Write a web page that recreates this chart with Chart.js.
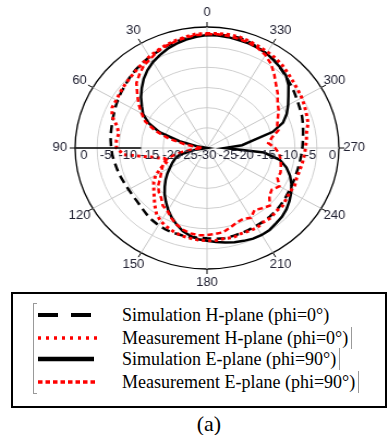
<!DOCTYPE html>
<html lang="en">
<head>
    <meta charset="UTF-8">
    <title>Radiation pattern</title>
    <style type="text/css">
        body {
            margin: 0;
            width: 388px;
            height: 435px;
            background: #fff;
            position: relative;
            overflow: hidden;
            font-family: 'Liberation Serif', 'Times New Roman', serif;
        }
        .polarBox {
            position: absolute;
            left: 0;
            top: 0;
            width: 388px;
            height: 290px;
            transform: scaleX(1.09);
            transform-origin: 207px 0;
        }
        .legendBox {
            position: absolute;
            left: 11px;
            top: 292px;
            width: 372px;
            height: 112px;
            border: 2px solid #000;
        }
        .bracket {
            position: absolute;
            left: 20px;
            top: 9px;
            width: 3px;
            height: 89px;
            border: 1px solid #999;
            border-right: none;
        }
        .row {
            position: absolute;
            left: 22px;
            height: 22px;
            line-height: 22px;
            font-size: 18px;
            color: #000;
            white-space: nowrap;
        }
        .row svg {
            position: absolute;
            left: 2px;
            top: 6px;
        }
        .row span {
            position: absolute;
            left: 87px;
        }
        .row span.closed {
            border-right: 1px solid #999;
            padding-right: 3px;
        }
        .caption {
            position: absolute;
            left: 0;
            width: 418px;
            top: 411px;
            text-align: center;
            font-size: 22px;
        }
    </style>
</head>
<body>
    <div class="polarBox">
        <canvas id="myChart"></canvas>
    </div>
    <div class="legendBox" id="legendBox">
        <div class="bracket"></div>
    </div>
    <div class="caption">(a)</div>

    <script src="https://cdn.jsdelivr.net/npm/chart.js"></script>

    <script>
    // setup block
    // angles in degrees, counter-clockwise from the top, 5 degree steps
    const angles = [];
    for (let a = 0; a < 360; a += 5) angles.push(a);

    const angleTickLabels = ['0', '30', '60', '90', '120', '150', '180', '210', '240', '270', '300', '330'];
    const dbTicks = [0, -5, -10, -15, -20, -25, -30];

    const seriesNames = [
        'Simulation H-plane (phi=0°)',
        'Measurement H-plane (phi=0°)',
        'Simulation E-plane (phi=90°)',
        'Measurement E-plane (phi=90°)'
    ];

    // values in dB, one per angle above (0, 5, 10 ... 355)
    const hSim = [
        -2.0, -2.1, -2.4, -2.7, -3.1, -3.6, -3.9, -4.3, -4.7, -5.2, -5.7, -6.1,
        -6.5, -6.9, -7.3, -7.6, -7.8, -8.0, -8.2, -8.4, -8.7, -8.9, -9.1, -9.3,
        -9.4, -9.4, -9.3, -9.0, -8.6, -8.2, -7.9, -7.7, -7.6, -7.6, -7.6, -7.7,
        -7.6, -7.4, -7.3, -7.4, -7.5, -7.6, -7.7, -7.7, -7.8, -7.9, -8.1, -8.3,
        -8.5, -8.6, -8.7, -8.7, -8.6, -8.5, -8.3, -8.1, -7.8, -7.4, -7.0, -6.7,
        -6.3, -5.8, -5.3, -4.7, -4.1, -3.4, -3.0, -2.5, -2.0, -1.7, -1.7, -1.8
    ];
    const hMeas = [
        -1.6, -1.6, -2.0, -2.4, -2.8, -3.3, -3.8, -4.4, -4.9, -5.3, -5.6, -5.9,
        -6.2, -6.2, -7.0, -8.8, -9.6, -9.3, -9.4, -11.0, -17.0, -20.0, -20.5, -18.5,
        -16.5, -15.2, -14.2, -13.0, -11.5, -10.0, -9.0, -8.4, -7.9, -7.5, -7.3, -7.1,
        -7.0, -7.0, -7.2, -7.0, -7.4, -7.3, -7.2, -7.6, -7.4, -7.8, -7.6, -8.0,
        -8.2, -8.0, -8.3, -8.2, -8.0, -7.8, -7.6, -7.3, -7.0, -6.2, -5.9, -5.5,
        -5.1, -4.8, -4.4, -3.9, -3.3, -2.8, -2.5, -2.2, -1.8, -1.5, -1.4, -1.5
    ];
    const eSim = [
        -2.0, -2.3, -2.7, -3.2, -3.8, -4.6, -5.4, -6.4, -7.6, -9.0, -10.4, -11.9,
        -13.2, -15.3, -18.5, -23.5, -28.0, -30.0, -30.0, -30.0, -27.0, -23.5, -22.3, -21.3,
        -20.3, -19.0, -17.7, -16.4, -15.0, -13.7, -12.3, -11.0, -9.8, -8.7, -7.9, -7.3,
        -7.0, -6.6, -6.2, -5.8, -5.5, -5.2, -5.1, -5.2, -5.6, -5.9, -6.4, -7.1,
        -7.9, -8.8, -9.9, -11.3, -13.2, -17.0, -26.0, -22.0, -19.5, -14.5, -11.6, -10.0,
        -8.7, -7.4, -5.8, -4.6, -4.0, -3.5, -2.9, -2.6, -2.4, -2.3, -2.1, -2.0
    ];
    const eMeas = [
        -1.8, -1.9, -2.2, -2.6, -3.0, -3.5, -4.4, -5.0, -6.1, -7.3, -9.3, -11.0,
        -12.8, -14.5, -17.5, -21.0, -25.0, -28.0, -29.0, -27.0, -24.0, -21.0, -19.5, -18.8,
        -18.0, -17.0, -15.5, -14.5, -13.8, -12.5, -12.0, -10.8, -9.8, -9.0, -8.5, -8.3,
        -8.4, -8.6, -8.8, -9.6, -10.3, -10.6, -10.0, -11.2, -10.5, -9.8, -11.5, -12.0,
        -11.0, -12.3, -12.2, -12.6, -13.0, -13.5, -14.5, -16.0, -15.0, -13.2, -13.0, -12.2,
        -11.2, -10.4, -9.0, -7.8, -6.2, -4.6, -3.4, -2.7, -2.2, -2.0, -1.8, -1.7
    ];

    // radar goes clockwise, so walk the angles backwards: 0, 355, 350 ...
    const radarAngles = angles.map((a, j) => (360 - 5 * j) % 360);
    const pick = series => radarAngles.map(a => series[a / 5]);

    const styles = [
        { color: '#000000', width: 2.5, dash: [8, 5], order: 2, legendWidth: 4, legendDash: '20 13', legendLen: 53 },
        { color: '#ff0000', width: 3, dash: [3, 3], order: 0, legendWidth: 3.5, legendDash: '3 5', legendLen: 60 },
        { color: '#000000', width: 2.5, dash: [], order: 3, legendWidth: 4.5, legendDash: 'none', legendLen: 56 },
        { color: '#ff0000', width: 2.5, dash: [5, 3], order: 1, legendWidth: 3.5, legendDash: '4.5 3', legendLen: 60 }
    ];
    const allSeries = [hSim, hMeas, eSim, eMeas];

    const data = {
        labels: radarAngles.map(String),
        datasets: allSeries.map((s, i) => ({
            label: seriesNames[i],
            data: pick(s),
            borderColor: styles[i].color,
            borderWidth: styles[i].width,
            borderDash: styles[i].dash,
            order: styles[i].order,
            fill: false,
            pointRadius: 0,
            tension: 0
        }))
    };

    // labels, ticks and the black radial axis piece
    const polarDecor = {
        id: 'polarDecor',
        afterDraw(chart) {
            const r = chart.scales.r;
            const ctx = chart.ctx;
            const R = r.drawingArea;
            ctx.save();
            ctx.strokeStyle = '#000';
            ctx.lineWidth = 1;
            ctx.fillStyle = '#222233';
            ctx.font = '12px "Liberation Sans", Arial, sans-serif';
            ctx.textAlign = 'center';
            ctx.textBaseline = 'middle';

            radarAngles.forEach((a, j) => {
                const txt = String(a);
                if (!angleTickLabels.includes(txt)) return;
                const p0 = r.getPointPosition(j, R);
                const p1 = r.getPointPosition(j, R + 5);
                ctx.beginPath();
                ctx.moveTo(p0.x, p0.y);
                ctx.lineTo(p1.x, p1.y);
                ctx.stroke();
                const pl = r.getPointPosition(j, R + 14);
                ctx.fillText(txt, pl.x, pl.y);
            });

            const j90 = radarAngles.indexOf(90);
            const q0 = r.getPointPosition(j90, R);
            const q1 = r.getPointPosition(j90, r.getDistanceFromCenterForValue(-15));
            ctx.lineWidth = 1.3;
            ctx.beginPath();
            ctx.moveTo(q0.x, q0.y);
            ctx.lineTo(q1.x, q1.y);
            ctx.stroke();

            const y = r.yCenter + 8;
            dbTicks.forEach(v => {
                const d = r.getDistanceFromCenterForValue(v);
                if (v === -30) {
                    ctx.fillText(String(v), r.xCenter, y);
                    return;
                }
                const off = v === -25 ? 3 : 8;
                ctx.fillText(String(v), r.xCenter - d + off, y);
                ctx.fillText(String(v), r.xCenter + d - off + 2, y);
            });
            ctx.restore();
        }
    };

    // config block
    const config = {
        type: 'radar',
        data,
        options: {
            responsive: true,
            maintainAspectRatio: false,
            animation: false,
            layout: {
                padding: { left: 86, right: 60, top: 27, bottom: 21 }
            },
            plugins: {
                legend: { display: false },
                tooltip: { enabled: false }
            },
            scales: {
                r: {
                    min: -30,
                    max: 0,
                    ticks: { display: false, stepSize: 5 },
                    pointLabels: { display: false },
                    grid: {
                        circular: true,
                        color: c => c.tick.value === 0 ? '#000' : '#cfcfcf',
                        lineWidth: c => c.tick.value === 0 ? 1.3 : 1
                    },
                    angleLines: {
                        color: c => c.index % 6 === 0 ? '#c6c6c6' : 'rgba(0,0,0,0)',
                        lineWidth: c => c.index % 6 === 0 ? 1 : 0
                    }
                }
            }
        },
        plugins: [polarDecor]
    };

    // render init block
    const myChart = new Chart(
        document.getElementById('myChart'),
        config
    );

    // legend block
    const rowTops = [10, 33, 54, 77];
    const box = document.getElementById('legendBox');
    seriesNames.forEach((name, i) => {
        const st = styles[i];
        const row = document.createElement('div');
        row.className = 'row';
        row.style.top = rowTops[i] + 'px';
        const dash = st.legendDash === 'none' ? '' : ' stroke-dasharray="' + st.legendDash + '"';
        row.innerHTML =
            '<svg width="64" height="10"><line x1="1" y1="5" x2="' + (1 + st.legendLen) + '" y2="5" stroke="' +
            st.color + '" stroke-width="' + st.legendWidth + '"' + dash + '/></svg>' +
            '<span class="' + (i > 0 ? 'closed' : '') + '">' + name + '</span>';
        box.appendChild(row);
    });
    </script>
</body>
</html>
